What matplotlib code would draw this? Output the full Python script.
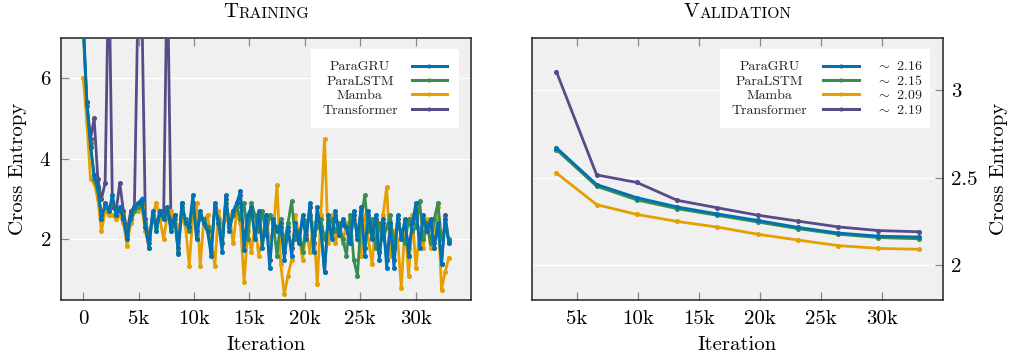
import numpy as np
import matplotlib
matplotlib.use("Agg")
import matplotlib.pyplot as plt
from matplotlib.lines import Line2D
from matplotlib.text import Text
from matplotlib.legend_handler import HandlerBase

plt.rcParams['font.family'] = 'cmr10'
plt.rcParams['mathtext.fontset'] = 'cm'
plt.rcParams['axes.formatter.use_mathtext'] = True

# ---- data ----
names = ['ParaGRU', 'ParaLSTM', 'Mamba', 'Transformer']
colors = ['#0072B2', '#3A8C50', '#E69F00', '#574B88']

train_iter = np.arange(0, 33001, 330)
train_gru = [7.5, 5.4, 4.3, 3.6, 3.3, 2.5, 2.9, 2.7, 3.1, 2.6,
             2.8, 2.5, 2.0, 2.6, 2.8, 2.9, 3.0, 2.3, 1.8, 2.7,
             2.2, 2.7, 2.5, 2.8, 2.2, 2.6, 1.65, 2.9, 2.4, 2.3,
             3.1, 2.0, 2.7, 2.4, 2.2, 1.6, 2.9, 2.4, 1.7, 3.1,
             2.2, 2.7, 2.9, 3.2, 1.75, 2.6, 2.8, 2.0, 2.7, 1.8,
             2.6, 1.3, 2.5, 2.2, 2.4, 1.5, 2.3, 1.6, 2.4, 1.9,
             2.6, 2.0, 2.9, 1.7, 2.8, 2.2, 1.2, 2.6, 2.0, 2.7,
             2.1, 2.5, 2.3, 1.9, 2.7, 2.0, 2.8, 1.6, 2.7, 2.0,
             2.6, 1.5, 2.5, 1.3, 2.4, 1.3, 2.6, 2.0, 2.5, 1.6,
             2.4, 2.9, 1.8, 2.6, 2.2, 2.5, 1.8, 2.4, 1.4, 2.5,
             1.9]
train_lstm = [7.2, 5.3, 4.4, 3.5, 3.2, 2.6, 2.8, 2.8, 2.9, 2.7,
              2.7, 2.6, 2.1, 2.5, 2.7, 2.8, 2.9, 2.4, 1.9, 2.6,
              2.3, 2.6, 2.6, 2.7, 2.3, 2.5, 1.7, 2.8, 2.5, 2.2,
              2.9, 2.2, 2.6, 2.5, 2.3, 1.7, 2.8, 2.5, 1.9, 2.9,
              2.4, 2.6, 2.8, 2.5, 2.9, 2.0, 2.9, 2.6, 2.2, 2.7,
              2.1, 2.6, 2.4, 1.6, 2.5, 1.9, 2.4, 2.95, 2.0, 2.2,
              1.7, 2.4, 2.6, 2.1, 2.3, 2.5, 2.0, 2.3, 2.5, 2.2,
              2.4, 2.0, 1.6, 2.6, 1.5, 1.1, 2.5, 3.1, 2.2, 2.5,
              1.8, 2.4, 2.0, 2.3, 2.6, 1.8, 2.4, 2.2, 1.9, 2.5,
              2.2, 2.3, 2.95, 2.0, 2.4, 1.9, 2.5, 2.9, 2.0, 2.3,
              2.0]
train_mamba = [6.0, 4.9, 3.5, 3.4, 3.0, 2.2, 2.7, 2.6, 2.6, 2.5,
               2.6, 2.4, 1.85, 2.4, 2.7, 2.7, 2.8, 2.2, 1.8, 2.6,
               2.9, 2.5, 2.0, 2.6, 2.7, 2.4, 2.3, 2.5, 2.3, 1.35,
               2.6, 2.9, 1.35, 2.5, 2.6, 2.0, 1.35, 2.7, 2.3, 2.5,
               2.6, 1.9, 2.7, 2.4, 0.95, 2.2, 1.7, 2.4, 1.6, 2.0,
               2.6, 1.9, 2.2, 3.35, 1.4, 0.65, 1.1, 1.5, 2.6, 2.1,
               1.5, 2.2, 1.7, 2.4, 0.9, 2.6, 4.5, 1.9, 2.6, 1.9,
               2.3, 1.9, 2.4, 2.0, 2.5, 2.2, 1.6, 2.6, 2.0, 1.4,
               2.4, 1.9, 2.6, 3.3, 1.6, 2.2, 2.0, 0.8, 2.4, 1.1,
               2.6, 1.3, 2.2, 1.8, 2.5, 1.8, 2.3, 2.8, 0.75, 1.2,
               1.55]
train_trans = [7.3, 5.4, 4.5, 5.0, 3.5, 3.0, 3.4, 9.0, 2.8, 2.7,
               3.4, 2.7, 2.2, 2.7, 2.8, 8.0, 8.0, 2.5, 2.0, 2.6,
               2.4, 2.7, 2.6, 9.0, 2.4, 2.6, 1.8, 2.9, 2.4, 2.3,
               2.9, 2.1, 2.6, 2.4, 2.2, 1.8, 2.8, 2.5, 1.9, 3.0,
               2.3, 2.6, 2.9, 3.1, 1.9, 2.5, 2.7, 2.2, 2.6, 2.0,
               2.5, 1.5, 2.4, 2.3, 2.3, 1.7, 2.2, 1.8, 2.3, 2.0,
               2.5, 2.1, 2.8, 1.9, 2.6, 2.3, 1.2, 2.5, 2.1, 2.6,
               2.2, 2.4, 2.2, 2.0, 2.6, 2.1, 2.7, 1.8, 2.6, 2.1,
               2.5, 1.7, 2.4, 1.5, 2.3, 1.5, 2.5, 2.1, 2.4, 1.8,
               2.3, 2.7, 2.0, 2.5, 2.2, 2.4, 1.9, 2.3, 1.4, 2.6,
               1.95]

val_iter = [3300, 6600, 9900, 13200, 16500, 19800, 23100, 26400, 29700, 33000]
val_gru = [2.67, 2.46, 2.385, 2.332, 2.292, 2.255, 2.215, 2.183, 2.165, 2.16]
val_lstm = [2.66, 2.45, 2.372, 2.322, 2.284, 2.246, 2.208, 2.176, 2.157, 2.15]
val_mamba = [2.526, 2.345, 2.289, 2.249, 2.217, 2.176, 2.143, 2.111, 2.095, 2.09]
val_trans = [3.105, 2.515, 2.472, 2.37, 2.327, 2.285, 2.251, 2.218, 2.197, 2.19]
final_vals = ['2.16', '2.15', '2.09', '2.19']

train_ticks = [0, 5000, 10000, 15000, 20000, 25000, 30000]
train_ticklabels = ['0', '5k', '10k', '15k', '20k', '25k', '30k']
val_ticks = [5000, 10000, 15000, 20000, 25000, 30000]
val_ticklabels = ['5k', '10k', '15k', '20k', '25k', '30k']

train_series = [train_gru, train_lstm, train_mamba, train_trans]
val_series = [val_gru, val_lstm, val_mamba, val_trans]
zorders = [5, 4, 3.5, 3]


class RowHandler(HandlerBase):
    # legend row: centred name, line sample, optional value (all in points)
    def __init__(self, name, name_x, line_x, value=None, value_x=None):
        super().__init__()
        self.name, self.name_x, self.line_x = name, name_x, line_x
        self.value, self.value_x = value, value_x

    def create_artists(self, legend, orig_handle, xdescent, ydescent,
                       width, height, fontsize, trans):
        y = (height - ydescent) / 2
        c = orig_handle.get_color()
        x0, x1 = self.line_x
        line = Line2D([x0, x1], [y, y], color=c, lw=2.2, transform=trans)
        dot = Line2D([(x0 + x1) / 2], [y], color=c, marker='o', ms=2.0,
                     markeredgecolor=c, transform=trans)
        out = [line, dot,
               Text(self.name_x, 0, self.name, fontsize=fontsize, ha='center',
                    va='baseline', color='#222222', transform=trans)]
        if self.value is not None:
            out.append(Text(self.value_x, 0, self.value, fontsize=fontsize,
                            ha='left', va='baseline', color='#222222',
                            transform=trans))
        return out


fig = plt.figure(figsize=(10.09, 3.56), dpi=100)
ax1 = fig.add_axes([0.0605, 0.1573, 0.4063, 0.737])
ax2 = fig.add_axes([0.5273, 0.1573, 0.4073, 0.737])


def style(ax):
    ax.set_facecolor('#f0f0f0')
    ax.grid(axis='y', color='white', lw=1.0)
    ax.set_axisbelow(True)
    for s in ax.spines.values():
        s.set_color('#222222')
        s.set_linewidth(1.1)
    ax.tick_params(direction='in', length=6, width=0.9, color='#888888',
                   labelsize=15, pad=7)


def smallcaps_title(ax, word):
    first = ax.text(0.5, 1.08, word[0], transform=ax.transAxes,
                    fontsize=15, ha='left', va='baseline')
    rest = ax.annotate(word[1:].upper(), xy=(1, 0), xycoords=first,
                       fontsize=11.3, ha='left', va='bottom')
    return first, rest


handles = []
for vals, name, c, z in zip(train_series, names, colors, zorders):
    ax1.plot(train_iter, vals, color=c, lw=2, marker='o', ms=2.6,
             zorder=z, solid_joinstyle='miter')
    handles.append(Line2D([], [], color=c))

for vals, c, z in zip(val_series, colors, zorders):
    ax2.plot(val_iter, vals, color=c, lw=2, marker='o', ms=2.6, zorder=z)

style(ax1)
ax1.set_xlim(-2000, 35000)
ax1.set_ylim(0.5, 7)
ax1.set_yticks([2, 4, 6])
ax1.set_xticks(train_ticks, train_ticklabels)
ax1.tick_params(top=True, left=True)
ax1.set_xlabel('Iteration', fontsize=15)
ax1.set_ylabel('Cross Entropy', fontsize=15)
ax1.xaxis.set_label_coords(0.5, -0.137)
ax1.yaxis.set_label_coords(-0.082, 0.5)

style(ax2)
ax2.set_xlim(1300, 35000)
ax2.set_ylim(1.8, 3.3)
ax2.set_yticks([2, 2.5, 3], ['2', '2.5', '3'])
ax2.set_xticks(val_ticks, val_ticklabels)
ax2.yaxis.tick_right()
ax2.yaxis.set_label_position('right')
ax2.tick_params(top=True, left=False, right=True)
ax2.tick_params(axis='y', pad=6)
ax2.set_xlabel('Iteration', fontsize=15)
ax2.set_ylabel('Cross Entropy', fontsize=15)
ax2.xaxis.set_label_coords(0.5, -0.137)
ax2.yaxis.set_label_coords(1.115, 0.5)

fs = 10
leg_kw = dict(fontsize=fs, frameon=True, fancybox=False, framealpha=1,
              edgecolor='none', facecolor='white', labelspacing=0.12,
              borderpad=0.85, borderaxespad=0, handletextpad=0,
              loc='upper right')

hmap1 = {h: RowHandler(n, 26.6, (63.9, 89.1)) for h, n in zip(handles, names)}
ax1.legend(handles, [''] * 4, handler_map=hmap1, handlelength=89.5 / fs,
           bbox_to_anchor=(0.9707, 0.957), **leg_kw)

hmap2 = {h: RowHandler(n, 26.9, (65.7, 91.7), r'$\sim$ ' + v, 103.9)
         for h, n, v in zip(handles, names, final_vals)}
ax2.legend(handles, [''] * 4, handler_map=hmap2, handlelength=134.0 / fs,
           bbox_to_anchor=(0.968, 0.957), **leg_kw)

titles = [smallcaps_title(ax1, 'Training'), smallcaps_title(ax2, 'Validation')]
fig.canvas.draw()
r = fig.canvas.get_renderer()
for ax, (first, rest) in zip([ax1, ax2], titles):
    w = first.get_window_extent(r).width + rest.get_window_extent(r).width
    aw = ax.get_window_extent(r).width
    first.set_x(0.5 - w / aw / 2)

fig.savefig('out.png', dpi=100)
